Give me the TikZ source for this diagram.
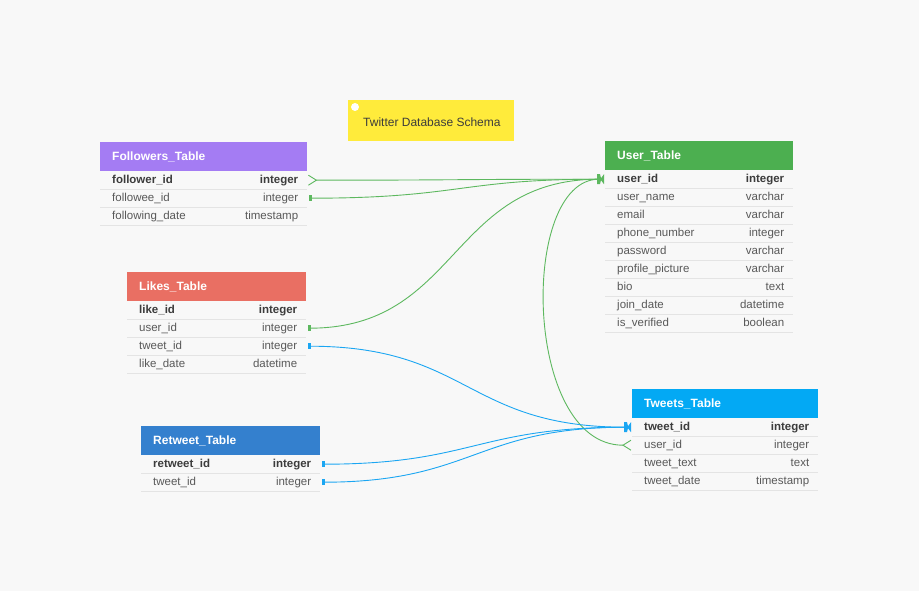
\documentclass[tikz,border=0pt]{standalone}
\usepackage{fontspec}
\setmainfont{Liberation Sans}
\definecolor{bgc}{HTML}{F8F8F8}
\definecolor{folc}{HTML}{A47CF3}
\definecolor{usrc}{HTML}{4CAF50}
\definecolor{likc}{HTML}{E96F63}
\definecolor{retc}{HTML}{3480CE}
\definecolor{twtc}{HTML}{03A9F4}
\definecolor{notec}{HTML}{FFEB3B}
\definecolor{keyc}{HTML}{3C3C3C}
\definecolor{txtc}{HTML}{595959}
\definecolor{sepc}{HTML}{E4E4E4}
\definecolor{lgreen}{HTML}{5DB85F}
\definecolor{lblue}{HTML}{1BA6F2}
\tikzset{
  hdrbox/.style={rectangle, inner sep=0pt, minimum height=29pt},
  hdrtext/.style={inner sep=0pt, text=white, font=\fontsize{12}{14}\selectfont\bfseries, text height=8.5pt, text depth=2.5pt},
  rowbox/.style={rectangle, inner sep=0pt, minimum height=18pt},
  rowtext/.style={inner sep=0pt, text=txtc, font=\fontsize{11.5}{13}\selectfont, text height=8pt, text depth=2.5pt},
  sep/.style={draw=sepc, line width=0.8pt},
  gline/.style={draw=lgreen, line width=0.9pt},
  bline/.style={draw=lblue, line width=0.9pt},
}
\newcommand\ertab[7]{%
  \node[hdrbox, fill=#5, minimum width=#4, anchor=north west] (#1-h) at (#2,#3) {};
  \node[hdrtext, anchor=west] (#1-t) at ([xshift=12pt,yshift=-1pt]#1-h.west) {#6};
  \foreach \f/\t [count=\i] in {#7} {
    \node[rowbox, minimum width=#4, anchor=north west] (#1-\i) at ({#2},{#3+29+(\i-1)*18}) {};
    \draw[sep] (#1-\i.south west) -- (#1-\i.south east);
    \node[rowtext, anchor=west] (#1-\i-f) at ([xshift=12pt,yshift=-1pt]#1-\i.west) {\ifnum\i=1 \bfseries\color{keyc}\fi\f};
    \node[rowtext, anchor=east] (#1-\i-t) at ([xshift=-9pt,yshift=-1pt]#1-\i.east) {\ifnum\i=1 \bfseries\color{keyc}\fi\t};
  }%
}
\begin{document}
\begin{tikzpicture}[x=1pt, y=-1pt]
\fill[bgc] (0,0) rectangle (919,591);
\useasboundingbox (0,0) rectangle (919,591);

% note
\node[rectangle, fill=notec, inner sep=0pt, minimum width=166pt, minimum height=41pt, anchor=north west] (note) at (348,100) {};
\fill[white] ([xshift=7pt,yshift=-7pt]note.north west) circle (4pt);
\node[inner sep=0pt, anchor=west, text=keyc, font=\fontsize{12}{14}\selectfont] (notetext) at ([xshift=15pt,yshift=-1.5pt]note.west) {Twitter Database Schema};

\ertab{fol}{100}{142}{207}{folc}{Followers\_Table}{follower\_id/integer, followee\_id/integer, following\_date/timestamp}
\ertab{usr}{605}{141}{188}{usrc}{User\_Table}{user\_id/integer, user\_name/varchar, email/varchar, phone\_number/integer, password/varchar, profile\_picture/varchar, bio/text, join\_date/datetime, is\_verified/boolean}
\ertab{lik}{127}{272}{179}{likc}{Likes\_Table}{like\_id/integer, user\_id/integer, tweet\_id/integer, like\_date/datetime}
\ertab{ret}{141}{426}{179}{retc}{Retweet\_Table}{retweet\_id/integer, tweet\_id/integer}
\ertab{twt}{632}{389}{186}{twtc}{Tweets\_Table}{tweet\_id/integer, user\_id/integer, tweet\_text/text, tweet\_date/timestamp}

% green connectors to user_id
\draw[gline] ([xshift=9pt]fol-1.east) .. controls +(140,0) and +(-140,0) .. ([xshift=-6pt]usr-1.west);
\draw[gline] ([xshift=1pt,yshift=5pt]fol-1.east) -- ([xshift=9pt]fol-1.east) -- ([xshift=1pt,yshift=-5pt]fol-1.east);
\draw[gline] ([xshift=3pt]fol-2.east) .. controls +(150,0) and +(-140,0) .. ([xshift=-6pt]usr-1.west);
\fill[lgreen] ([xshift=2pt,yshift=-3pt]fol-2.east) rectangle ([xshift=5pt,yshift=3pt]fol-2.east);
\draw[gline] ([xshift=3pt]lik-2.east) .. controls +(150,0) and +(-150,0) .. ([xshift=-6pt]usr-1.west);
\fill[lgreen] ([xshift=2pt,yshift=-3pt]lik-2.east) rectangle ([xshift=5pt,yshift=3pt]lik-2.east);
\draw[gline] ([xshift=-9pt]twt-2.west) .. controls +(-100,0) and +(-80,0) .. ([xshift=-6pt]usr-1.west);
\draw[gline] ([xshift=-1pt,yshift=5pt]twt-2.west) -- ([xshift=-9pt]twt-2.west) -- ([xshift=-1pt,yshift=-5pt]twt-2.west);
\fill[lgreen] ([xshift=-8pt,yshift=5pt]usr-1.west) -- ([xshift=-5pt,yshift=5pt]usr-1.west) -- ([xshift=-4pt,yshift=1pt]usr-1.west) -- ([xshift=-1pt,yshift=5pt]usr-1.west) -- ([xshift=-1pt,yshift=-5pt]usr-1.west) -- ([xshift=-4pt,yshift=-1pt]usr-1.west) -- ([xshift=-5pt,yshift=-5pt]usr-1.west) -- ([xshift=-8pt,yshift=-5pt]usr-1.west) -- cycle;

% blue connectors to tweet_id
\draw[bline] ([xshift=3pt]lik-3.east) .. controls +(160,0) and +(-160,0) .. ([xshift=-6pt]twt-1.west);
\fill[lblue] ([xshift=2pt,yshift=-3pt]lik-3.east) rectangle ([xshift=5pt,yshift=3pt]lik-3.east);
\draw[bline] ([xshift=3pt]ret-1.east) .. controls +(150,0) and +(-150,0) .. ([xshift=-6pt]twt-1.west);
\fill[lblue] ([xshift=2pt,yshift=-3pt]ret-1.east) rectangle ([xshift=5pt,yshift=3pt]ret-1.east);
\draw[bline] ([xshift=3pt]ret-2.east) .. controls +(150,0) and +(-150,0) .. ([xshift=-6pt]twt-1.west);
\fill[lblue] ([xshift=2pt,yshift=-3pt]ret-2.east) rectangle ([xshift=5pt,yshift=3pt]ret-2.east);
\fill[lblue] ([xshift=-8pt,yshift=5pt]twt-1.west) -- ([xshift=-5pt,yshift=5pt]twt-1.west) -- ([xshift=-4pt,yshift=1pt]twt-1.west) -- ([xshift=-1pt,yshift=5pt]twt-1.west) -- ([xshift=-1pt,yshift=-5pt]twt-1.west) -- ([xshift=-4pt,yshift=-1pt]twt-1.west) -- ([xshift=-5pt,yshift=-5pt]twt-1.west) -- ([xshift=-8pt,yshift=-5pt]twt-1.west) -- cycle;
\end{tikzpicture}
\end{document}
